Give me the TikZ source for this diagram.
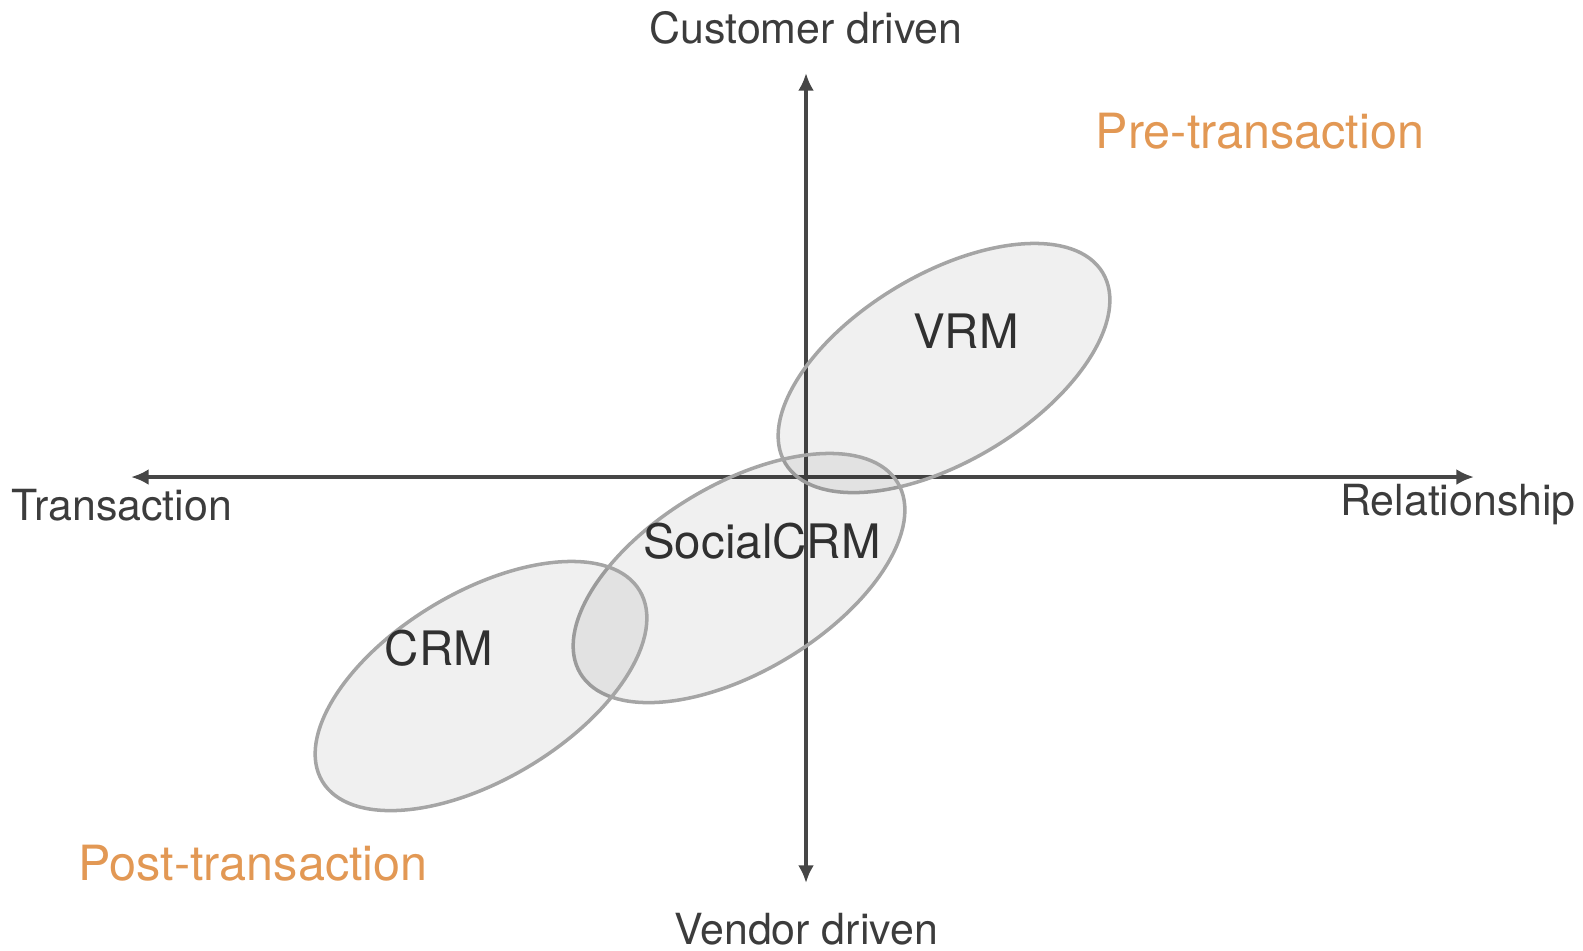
\documentclass[tikz,border=0pt]{standalone}
\usepackage{fontspec}
\setmainfont{TeX Gyre Heros}
\usetikzlibrary{arrows.meta,shapes.geometric}
\definecolor{axisgray}{RGB}{70,70,70}
\definecolor{txtgray}{RGB}{60,60,60}
\definecolor{ringgray}{RGB}{165,165,165}
\definecolor{orangelbl}{RGB}{226,152,84}
\begin{document}
\begin{tikzpicture}[x=0.01cm,y=-0.01cm,
  axis/.style={draw=axisgray,line width=1pt,{Latex[length=5pt,width=4.5pt]}-{Latex[length=5pt,width=4.5pt]}},
  blob/.style={ellipse,draw=ringgray,line width=1pt,fill=black,fill opacity=0.06,minimum width=3.7cm,minimum height=1.87cm,inner sep=0pt},
  axlbl/.style={text=txtgray,font=\fontsize{12.2}{14}\selectfont,inner sep=0pt},
  zonelbl/.style={text=orangelbl,font=\fontsize{13.8}{16}\selectfont,inner sep=0pt},
  setlbl/.style={text=txtgray!80!black,font=\fontsize{13.5}{16}\selectfont,inner sep=0pt}]
\useasboundingbox (0,0) rectangle (1583,950);
\coordinate (left) at (131,477);
\coordinate (right) at (1474,477);
\coordinate (top) at (806,73);
\coordinate (bottom) at (806,883);
\draw[axis] (left) -- (right);
\draw[axis] (bottom) -- (top);
\node[blob,rotate=31] (vrmE) at (944,368) {};
\node[blob,rotate=31] (socE) at (739,578) {};
\node[blob,rotate=31] (crmE) at (481,686) {};
\node[axlbl] (cust) at (806,28) {Customer driven};
\node[axlbl] (vend) at (806,929) {Vendor driven};
\node[axlbl] (trans) at (122,505) {Transaction};
\node[axlbl] (rel) at (1458,505) {Relationship};
\node[zonelbl] (pre) at (1260,131) {Pre-transaction};
\node[zonelbl] (post) at (253,863) {Post-transaction};
\node[setlbl] (vrm) at (966,331) {VRM};
\node[setlbl] (soc) at (762,541) {SocialCRM};
\node[setlbl] (crm) at (439,648) {CRM};
\end{tikzpicture}
\end{document}
